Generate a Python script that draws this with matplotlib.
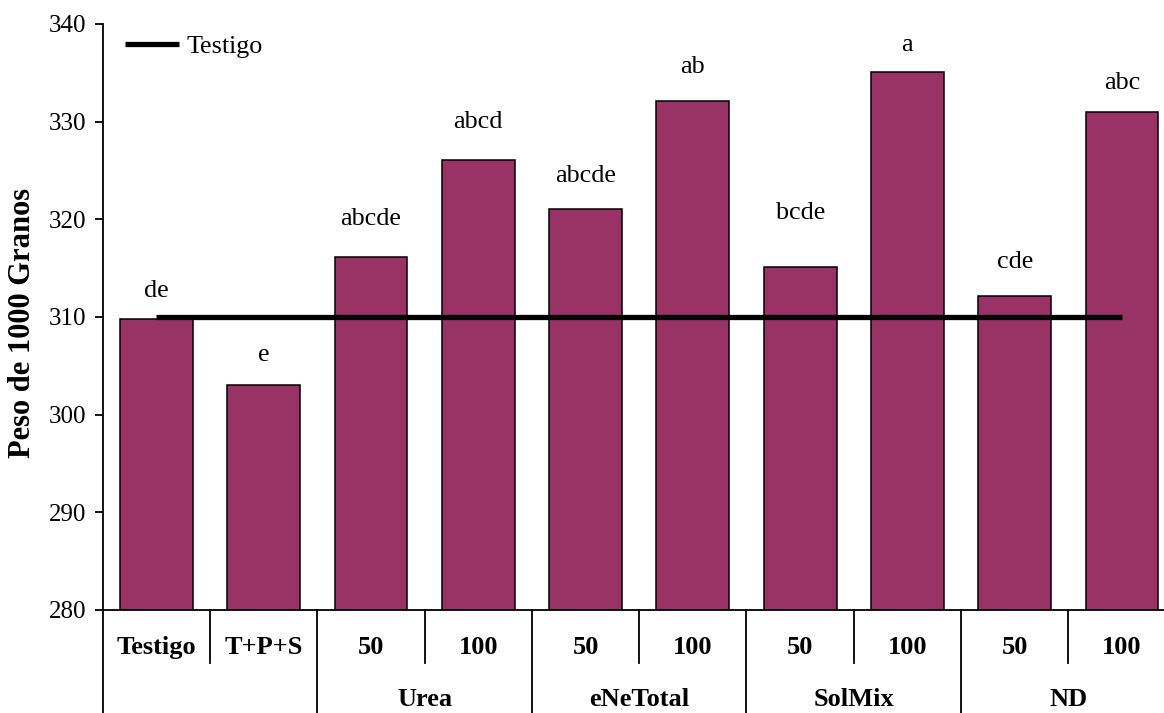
import matplotlib
matplotlib.use("Agg")
import matplotlib.pyplot as plt
from matplotlib import transforms

# ---- data ----
treatments = ["Testigo", "T+P+S", "50", "100", "50", "100", "50", "100", "50", "100"]
groups = ["", "Urea", "eNeTotal", "SolMix", "ND"]
group_spans = [(0, 1), (2, 3), (4, 5), (6, 7), (8, 9)]
peso = [309.8, 303.0, 316.1, 326.1, 321.1, 332.1, 315.1, 335.1, 312.1, 331.0]
letters = ["de", "e", "abcde", "abcd", "abcde", "ab", "bcde", "a", "cde", "abc"]
testigo_ref = [310, 310, 310, 310, 310, 310, 310, 310, 310, 310]
yticks = [280, 290, 300, 310, 320, 330, 340]

# ---- layout: vertical position (data units) of each letter label ----
letter_pos = [312.7, 306.1, 320.0, 330.0, 324.4, 335.6, 320.6, 337.8, 315.6, 334.0]

SERIF = ["Liberation Serif", "DejaVu Serif"]
plt.rcParams["font.family"] = SERIF

fig = plt.figure(figsize=(11.64, 7.13), dpi=100)
ax = fig.add_axes([0.0883, 0.1445, 0.9217, 0.8219])

x = list(range(len(peso)))
ax.bar(x, peso, width=0.68, bottom=0, color="#993366", edgecolor="black",
       linewidth=1.1, zorder=2)
ax.plot(x, testigo_ref, color="black", linewidth=3.8, solid_capstyle="butt",
        zorder=3, label="Testigo")

for xi, yp, lab in zip(x, letter_pos, letters):
    ax.text(xi, yp, lab, ha="center", va="center", fontsize=18.8, zorder=4)

ax.set_xlim(-0.5, 9.5)
ax.set_ylim(280, 340)
ax.set_yticks(yticks)
ax.set_yticklabels([str(t) for t in yticks], fontsize=18)
ax.tick_params(axis="y", direction="out", length=6, width=1.3, pad=6)
ax.set_xticks([])

for s in ["top", "right"]:
    ax.spines[s].set_visible(False)
for s in ["left", "bottom"]:
    ax.spines[s].set_linewidth(1.3)

ax.set_ylabel("Peso de 1000 Granos", fontsize=22, fontweight="bold", va="center")
ax.yaxis.set_label_coords(-0.0744, 0.49)

# category table below axis
trans = transforms.blended_transform_factory(ax.transData, ax.transAxes)
row1_bottom = -0.0904
full_bottom = -0.20
for i, lab in enumerate(treatments):
    ax.text(i, -0.0648, lab, transform=trans, ha="center", va="center",
            fontsize=19, fontweight="bold")
group_edges = set()
for (a, b) in group_spans:
    group_edges.add(a - 0.5)
for b in [xx + 0.5 for xx in x[:-1]]:
    if b in group_edges:
        continue
    ax.plot([b, b], [0, row1_bottom], transform=trans, color="black",
            linewidth=1.3, clip_on=False)
for e in sorted(group_edges):
    ax.plot([e, e], [0, full_bottom], transform=trans, color="black",
            linewidth=1.3, clip_on=False)
ax.plot([9.5, 9.5], [0, full_bottom], transform=trans, color="black",
        linewidth=1.3, clip_on=False)
for g, (a, b) in zip(groups, group_spans):
    if g:
        ax.text((a + b) / 2, -0.1536, g, transform=trans, ha="center",
                va="center", fontsize=19, fontweight="bold")

leg = ax.legend(loc="center left", bbox_to_anchor=(0.0207, 0.9613),
                frameon=False, fontsize=18.7, handlelength=2.08,
                handletextpad=0.3, borderpad=0, borderaxespad=0)

fig.savefig("out.png", dpi=100)
